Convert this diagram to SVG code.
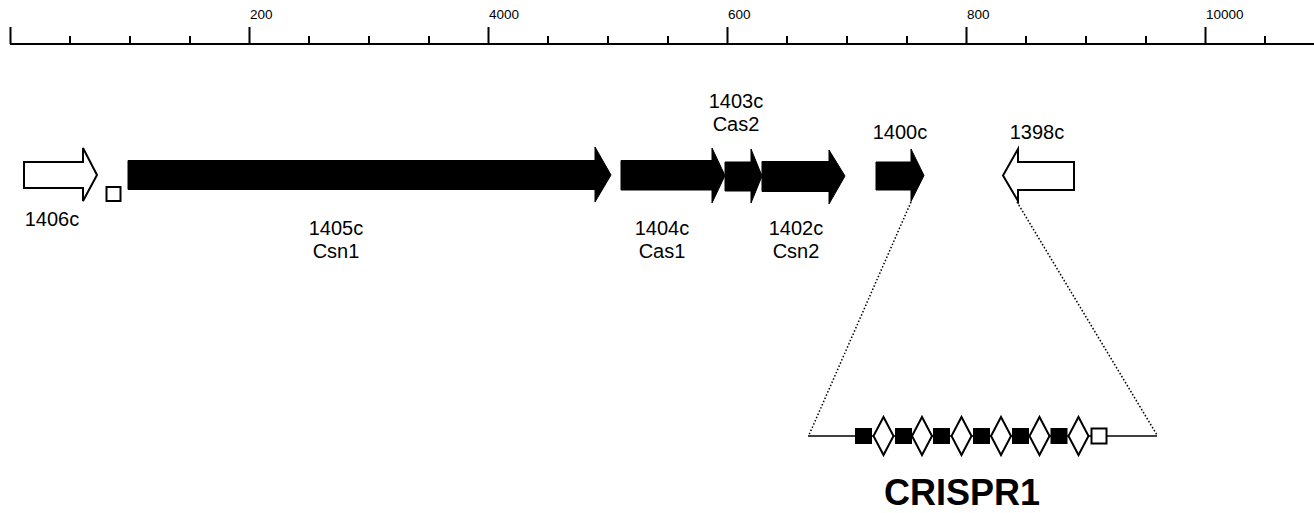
<svg xmlns="http://www.w3.org/2000/svg" width="1314" height="513" viewBox="0 0 1314 513">
<style>
.ax{stroke:#000;stroke-width:2;fill:none}
.tl{font-family:"Liberation Sans",Arial,sans-serif;font-size:13.5px;fill:#000}
.gl{font-family:"Liberation Sans",Arial,sans-serif;font-size:20px;fill:#000;text-anchor:middle}
.blk{fill:#000;stroke:#000;stroke-width:1}
.opn{fill:#fff;stroke:#000;stroke-width:2;stroke-linejoin:miter}
.dot{stroke:#000;stroke-width:1.5;stroke-dasharray:1.5,2;fill:none}
.ln{stroke:#000;stroke-width:1.5;fill:none}
.big{font-family:"Liberation Sans",Arial,sans-serif;font-size:36px;font-weight:bold;fill:#000;text-anchor:middle}
</style>
<rect width="1314" height="513" fill="#fff"/>
<g id="ruler">
<path class="ax" d="M10 44H1314 M10.5 27V44 M70 36V44 M130 36V44 M190 36V44 M249.5 27V44 M309 36V44 M369 36V44 M429 36V44 M488.5 27V44 M548 36V44 M608 36V44 M668 36V44 M727.5 27V44 M787 36V44 M847 36V44 M907 36V44 M966.5 27V44 M1026 36V44 M1086 36V44 M1146 36V44 M1205.5 27V44 M1265 36V44"/>
<text class="tl" x="250" y="18.5">200</text>
<text class="tl" x="489" y="18.5">4000</text>
<text class="tl" x="728" y="18.5">600</text>
<text class="tl" x="967" y="18.5">800</text>
<text class="tl" x="1206" y="18.5">10000</text>
</g>
<g id="g1406c">
<polygon class="opn" points="24,162 83,162 83,148 97,175 83,201 83,188 24,188"/>
<text class="gl" x="52" y="226">1406c</text>
</g>
<g id="marker-small">
<rect class="opn" x="106.5" y="187" width="14" height="14"/>
</g>
<g id="g1405c">
<polygon class="blk" points="128,160.5 595,160.5 595,147 611,175 595,202 595,189.5 128,189.5"/>
<text class="gl" x="336" y="235">1405c</text>
<text class="gl" x="336" y="258">Csn1</text>
</g>
<g id="g1404c">
<polygon class="blk" points="621,160.5 712,160.5 712,148 725,175.5 712,203 712,190 621,190"/>
<text class="gl" x="662" y="235">1404c</text>
<text class="gl" x="662" y="258">Cas1</text>
</g>
<g id="g1403c">
<polygon class="blk" points="725,162 751,162 751,149 762,176 751,203 751,191 725,191"/>
<text class="gl" x="736" y="108">1403c</text>
<text class="gl" x="736" y="131">Cas2</text>
</g>
<g id="g1402c">
<polygon class="blk" points="762,161.5 829,161.5 829,150 845,176 829,204 829,191.5 762,191.5"/>
<text class="gl" x="796" y="235">1402c</text>
<text class="gl" x="796" y="258">Csn2</text>
</g>
<g id="g1400c">
<polygon class="blk" points="876,162 911,162 911,149 924,175.5 911,201.5 911,190 876,190"/>
<text class="gl" x="900" y="139">1400c</text>
</g>
<g id="g1398c">
<polygon class="opn" points="1074,162 1018,162 1018,149 1003,175.5 1018,201 1018,190 1074,190"/>
<text class="gl" x="1037" y="139">1398c</text>
</g>
<g id="connectors">
<path class="dot" d="M911 202L809 435"/>
<path class="dot" d="M1017 202L1157 435"/>
<path class="ln" d="M808 436H1157"/>
</g>
<g id="crispr1">
<rect class="blk" x="855.5" y="428.5" width="16" height="15"/>
<rect class="blk" x="895.5" y="428.5" width="16" height="15"/>
<rect class="blk" x="933.5" y="428.5" width="16" height="15"/>
<rect class="blk" x="973.5" y="428.5" width="16" height="15"/>
<rect class="blk" x="1012.5" y="428.5" width="16" height="15"/>
<rect class="blk" x="1051" y="428.5" width="16" height="15"/>
<polygon class="opn" points="883.5,417 893.5,436 883.5,455 873.5,436"/>
<polygon class="opn" points="922,417 932,436 922,455 912,436"/>
<polygon class="opn" points="961.5,417 971.5,436 961.5,455 951.5,436"/>
<polygon class="opn" points="1001,417 1011,436 1001,455 991,436"/>
<polygon class="opn" points="1039.5,417 1049.5,436 1039.5,455 1029.5,436"/>
<polygon class="opn" points="1078.5,417 1088.5,436 1078.5,455 1068.5,436"/>
<rect class="opn" x="1091.5" y="428.5" width="15" height="15"/>
<text class="big" x="962" y="505">CRISPR1</text>
</g>
</svg>
